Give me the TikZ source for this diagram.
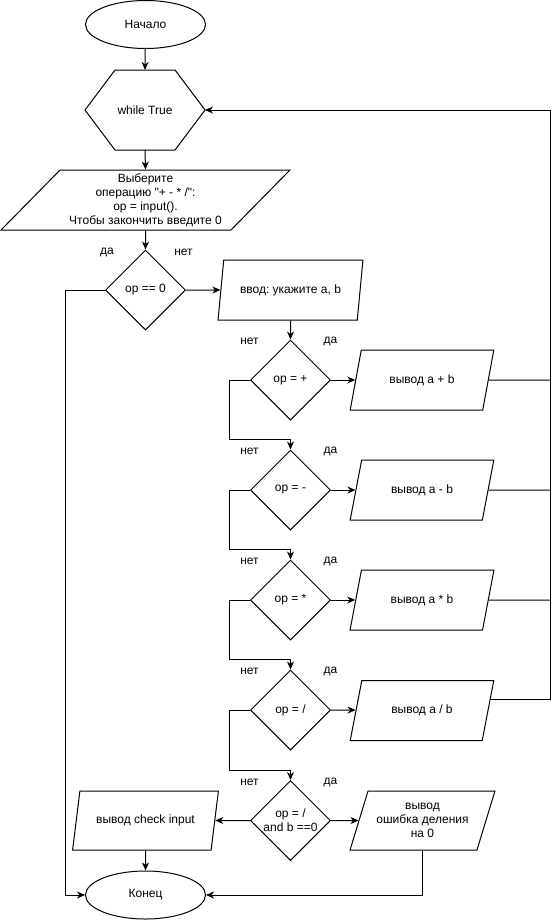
\documentclass[tikz,border=0pt]{standalone}
\usepackage{fontspec}
\setmainfont{Liberation Sans}
\usetikzlibrary{shapes.geometric,arrows.meta,calc}
\frenchspacing

\begin{document}
\begin{tikzpicture}[x=1pt,y=-1pt,
  every node/.style={font=\fontsize{12}{14}\selectfont},
  base/.style={draw, line width=1pt, inner sep=1pt},
  term/.style={base, ellipse, minimum width=120pt, minimum height=48pt, inner sep=0pt},
  hexbody/.style={rectangle, draw=none, minimum width=120pt, minimum height=80pt, outer sep=0pt, inner sep=0pt},
  decision/.style={base, diamond, aspect=1, minimum width=80pt, minimum height=80pt, inner sep=0pt},
  io/.style={base, trapezium, trapezium stretches=true, align=center},
  outbox/.style={io, trapezium left angle=65, trapezium right angle=115, minimum width=144pt, minimum height=60pt},
  lbl/.style={inner sep=0pt},
  line/.style={line width=1pt},
  arr/.style={line, -{Stealth[length=8pt,width=7pt,inset=2.5pt]}}
]
\useasboundingbox (0,0) rectangle (559,921);

% terminals
\node[term] (start) at (145.5,24.5) {Начало};
\node[term] (end) at (145.5,895) {Конец};

% loop header (hexagon)
\node[hexbody] (loop) at (145,110) {while True};
\draw[line] (loop.west) -- ($(loop.north west)+(30,0)$) -- ($(loop.north east)+(-30,0)$)
  -- (loop.east) -- ($(loop.south east)+(-30,0)$) -- ($(loop.south west)+(30,0)$) -- cycle;

% operation input
\node[io, trapezium left angle=46, trapezium right angle=134, minimum width=290pt, minimum height=60pt]
  (inp) at (145.5,200) {Выберите\\операцию \textquotedbl+ - * /\textquotedbl:\\op = input().\\Чтобы закончить введите 0};

\node[decision] (d0) at (145.5,290) {op == 0};
\node[io, trapezium left angle=71.6, trapezium right angle=108.4, minimum width=145pt, minimum height=60pt]
  (ab) at (290.5,290) {ввод: укажите a, b};

% operation checks
\node[decision] (d1) at (290.5,380) {op = +};
\node[decision] (d2) at (290.5,490) {op = -};
\node[decision] (d3) at (290.5,600) {op = *};
\node[decision] (d4) at (290.5,710) {op = /};
\node[decision, label={[align=center,inner sep=0pt]center:op = /\\and b ==0}] (d5) at (290.5,820.5) {};

\node[outbox] (o1) at (422,380) {вывод a + b};
\node[outbox] (o2) at (422,490) {вывод a - b};
\node[outbox] (o3) at (422,600) {вывод a * b};
\node[outbox] (o4) at (422,710.5) {вывод a / b};

\node[io, trapezium left angle=67, trapezium right angle=113, minimum width=146pt, minimum height=59pt]
  (chk) at (145.5,820.5) {вывод check input};
\node[io, trapezium left angle=67, trapezium right angle=113, minimum width=145pt, minimum height=59pt]
  (err) at (422.5,820.5) {вывод\\ошибка деления\\на 0};

% branch labels
\node[lbl] (y0) at (107,252) {да};
\node[lbl] (n0) at (183.5,252) {нет};
\foreach \d/\yy in {d1/341, d2/451, d3/561, d4/671, d5/782} {
  \node[lbl] (n\d) at (249.5,\yy) {нет};
  \node[lbl] (y\d) at (330.5,\yy) {да};
}

\coordinate (rt) at (550.5,110);
\coordinate (o4r) at ($(o4.top right corner)!0.32!(o4.bottom right corner)$);

% main flow
\draw[arr] (start) -- (loop.north);
\draw[arr] (loop.south) -- (inp.north);
\draw[arr] (inp.south) -- (d0.north);
\draw[arr] (d0.east) -- (ab);
\draw[arr] (ab.south) -- (d1.north);

% yes branches
\draw[arr] (d1.east) -- (o1);
\draw[arr] (d2.east) -- (o2);
\draw[arr] (d3.east) -- (o3);
\draw[arr] (d4.east) -- (o4);
\draw[arr] (d5.east) -- (err);

% no branches
\draw[arr] (d1.west) -- ++(-20.5,0) |- ([yshift=10pt]d2.north) -- (d2.north);
\draw[arr] (d2.west) -- ++(-20.5,0) |- ([yshift=10pt]d3.north) -- (d3.north);
\draw[arr] (d3.west) -- ++(-20.5,0) |- ([yshift=10pt]d4.north) -- (d4.north);
\draw[arr] (d4.west) -- ++(-20.5,0) |- ([yshift=10pt]d5.north) -- (d5.north);
\draw[arr] (d5.west) -- (chk);

% back to the loop
\draw[line] (o1) -- (o1 -| rt);
\draw[line] (o2) -- (o2 -| rt);
\draw[line] (o3) -- (o3 -| rt);
\draw[arr] (o4r) -| (rt) -- (loop.east);

% to the end
\draw[arr] (d0.west) -- ++(-40,0) |- (end.west);
\draw[arr] (chk.south) -- (end.north);
\draw[arr] (err.south) |- (end.east);
\end{tikzpicture}
\end{document}
